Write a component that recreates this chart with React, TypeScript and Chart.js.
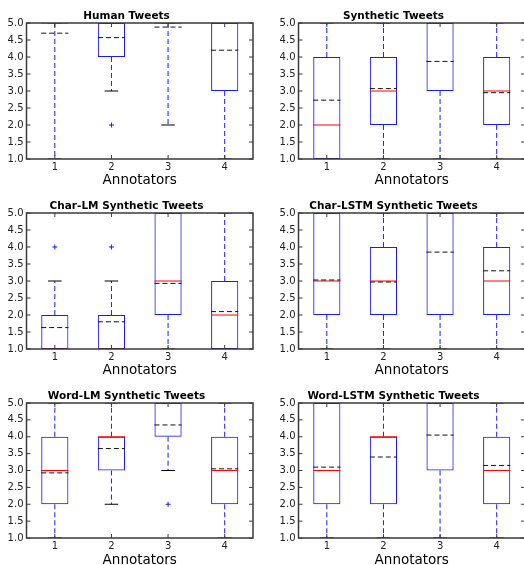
import React, { useEffect, useRef } from 'react';
import { Chart, registerables } from 'chart.js';

Chart.register(...registerables);
Chart.defaults.font.family = "'DejaVu Sans', sans-serif";

// ---------- data ----------
const annotators = ['1', '2', '3', '4'];
const axisLabel = 'Annotators';

// Human Tweets
const humanQ1 = [5, 4, 5, 3];
const humanQ3 = [5, 5, 5, 5];
const humanMedian = [5, 5, 5, 5];
const humanMean = [4.7, 4.57, 4.88, 4.2];
const humanLow = [1, 3, 2, 1];
const humanHigh = [5, 5, 5, 5];
const humanOutliers = [[], [2], [], []];

// Synthetic Tweets
const synQ1 = [1, 2, 3, 2];
const synQ3 = [4, 4, 5, 4];
const synMedian = [2, 3, 5, 3];
const synMean = [2.73, 3.07, 3.87, 2.95];
const synLow = [1, 1, 1, 1];
const synHigh = [5, 5, 5, 5];
const synOutliers = [[], [], [], []];

// Char-LM Synthetic Tweets
const charLmQ1 = [1, 1, 2, 1];
const charLmQ3 = [2, 2, 5, 3];
const charLmMedian = [1, 1, 3, 2];
const charLmMean = [1.63, 1.8, 2.93, 2.1];
const charLmLow = [1, 1, 1, 1];
const charLmHigh = [3, 3, 5, 5];
const charLmOutliers = [[4], [4], [], []];

// Char-LSTM Synthetic Tweets
const charLstmQ1 = [2, 2, 2, 2];
const charLstmQ3 = [5, 4, 5, 4];
const charLstmMedian = [3, 3, 5, 3];
const charLstmMean = [3.03, 2.97, 3.85, 3.3];
const charLstmLow = [1, 1, 1, 1];
const charLstmHigh = [5, 5, 5, 5];
const charLstmOutliers = [[], [], [], []];

// Word-LM Synthetic Tweets
const wordLmQ1 = [2, 3, 4, 2];
const wordLmQ3 = [4, 4, 5, 4];
const wordLmMedian = [3, 4, 5, 3];
const wordLmMean = [2.93, 3.65, 4.35, 3.05];
const wordLmLow = [1, 2, 3, 1];
const wordLmHigh = [5, 5, 5, 5];
const wordLmOutliers = [[], [], [2], []];

// Word-LSTM Synthetic Tweets
const wordLstmQ1 = [2, 2, 3, 2];
const wordLstmQ3 = [5, 4, 5, 4];
const wordLstmMedian = [3, 4, 5, 3];
const wordLstmMean = [3.1, 3.4, 4.05, 3.15];
const wordLstmLow = [1, 1, 1, 1];
const wordLstmHigh = [5, 5, 5, 5];
const wordLstmOutliers = [[], [], [], []];

type PanelData = {
  title: string;
  q1: number[]; q3: number[]; median: number[]; mean: number[];
  low: number[]; high: number[]; outliers: number[][];
};

const panels: PanelData[] = [
  { title: 'Human Tweets', q1: humanQ1, q3: humanQ3, median: humanMedian, mean: humanMean, low: humanLow, high: humanHigh, outliers: humanOutliers },
  { title: 'Synthetic Tweets', q1: synQ1, q3: synQ3, median: synMedian, mean: synMean, low: synLow, high: synHigh, outliers: synOutliers },
  { title: 'Char-LM Synthetic Tweets', q1: charLmQ1, q3: charLmQ3, median: charLmMedian, mean: charLmMean, low: charLmLow, high: charLmHigh, outliers: charLmOutliers },
  { title: 'Char-LSTM Synthetic Tweets', q1: charLstmQ1, q3: charLstmQ3, median: charLstmMedian, mean: charLstmMean, low: charLstmLow, high: charLstmHigh, outliers: charLstmOutliers },
  { title: 'Word-LM Synthetic Tweets', q1: wordLmQ1, q3: wordLmQ3, median: wordLmMedian, mean: wordLmMean, low: wordLmLow, high: wordLmHigh, outliers: wordLmOutliers },
  { title: 'Word-LSTM Synthetic Tweets', q1: wordLstmQ1, q3: wordLstmQ3, median: wordLstmMedian, mean: wordLstmMean, low: wordLstmLow, high: wordLstmHigh, outliers: wordLstmOutliers },
];

// ---------- drawing helpers ----------
function line(ctx: CanvasRenderingContext2D, x1: number, y1: number, x2: number, y2: number) {
  ctx.beginPath();
  ctx.moveTo(x1, y1);
  ctx.lineTo(x2, y2);
  ctx.stroke();
}

function makeBoxPlugin(p: PanelData) {
  return {
    id: 'boxDecor',
    afterDatasetsDraw(chart: any) {
      const { ctx, chartArea: a, scales } = chart;
      const xs = scales.x, ys = scales.y;
      const meta = chart.getDatasetMeta(0);
      ctx.save();
      ctx.beginPath();
      ctx.rect(a.left, a.top, a.right - a.left, a.bottom - a.top);
      ctx.clip();
      ctx.lineWidth = 1;
      p.q1.forEach((q1, i) => {
        const cx = xs.getPixelForValue(i);
        const bw = meta.data[i].width;
        const yq1 = ys.getPixelForValue(q1);
        const yq3 = ys.getPixelForValue(p.q3[i]);
        const yLo = ys.getPixelForValue(p.low[i]);
        const yHi = ys.getPixelForValue(p.high[i]);
        // whiskers
        ctx.strokeStyle = '#1a1aff';
        ctx.setLineDash([5, 3]);
        if (p.low[i] < q1) line(ctx, cx, yq1, cx, yLo);
        if (p.high[i] > p.q3[i]) line(ctx, cx, yq3, cx, yHi);
        // caps
        ctx.setLineDash([]);
        ctx.strokeStyle = '#000000';
        line(ctx, cx - bw / 4, yLo, cx + bw / 4, yLo);
        line(ctx, cx - bw / 4, yHi, cx + bw / 4, yHi);
        // median
        ctx.strokeStyle = '#ff0000';
        const ym = ys.getPixelForValue(p.median[i]);
        line(ctx, cx - bw / 2, ym, cx + bw / 2, ym);
        // fliers
        ctx.strokeStyle = '#1a1aff';
        p.outliers[i].forEach((v) => {
          const yo = ys.getPixelForValue(v);
          line(ctx, cx - 2.5, yo, cx + 2.5, yo);
          line(ctx, cx, yo - 2.5, cx, yo + 2.5);
        });
        // mean
        ctx.strokeStyle = '#111111';
        ctx.setLineDash([5, 3]);
        const ymean = ys.getPixelForValue(p.mean[i]);
        line(ctx, cx - bw / 2, ymean, cx + bw / 2, ymean);
        ctx.setLineDash([]);
      });
      ctx.restore();
    },
    afterDraw(chart: any) {
      const { ctx, chartArea: a, scales } = chart;
      const xs = scales.x, ys = scales.y;
      ctx.save();
      ctx.strokeStyle = '#3a3a3a';
      ctx.lineWidth = 1.5;
      ctx.strokeRect(a.left, a.top, a.right - a.left, a.bottom - a.top);
      ctx.lineWidth = 1;
      const tl = 4;
      ys.ticks.forEach((t: any) => {
        const py = ys.getPixelForValue(t.value);
        line(ctx, a.left, py, a.left + tl, py);
        line(ctx, a.right, py, a.right - tl, py);
      });
      annotators.forEach((_, i) => {
        const px = xs.getPixelForValue(i);
        line(ctx, px, a.bottom, px, a.bottom - tl);
        line(ctx, px, a.top, px, a.top + tl);
      });
      ctx.restore();
    },
  };
}

type PanelProps = {
  data: PanelData; left: number; top: number; width: number; height: number;
  yAxisWidth: number; padRight: number; padTop: number; xAxisHeight: number;
};

function Panel({ data, left, top, width, height, yAxisWidth, padRight, padTop, xAxisHeight }: PanelProps) {
  const ref = useRef<HTMLCanvasElement>(null);
  useEffect(() => {
    const chart = new Chart(ref.current as HTMLCanvasElement, {
      type: 'bar',
      data: {
        labels: annotators,
        datasets: [
          {
            data: data.q1.map((v, i) => [v, data.q3[i]]) as any,
            backgroundColor: 'rgba(255,255,255,0)',
            borderColor: '#1a1aff',
            borderWidth: 1,
            borderSkipped: false,
            barPercentage: 0.48,
            categoryPercentage: 1,
          },
        ],
      },
      options: {
        responsive: false,
        animation: false,
        events: [],
        layout: { padding: { top: padTop, left: 0, right: padRight, bottom: 0 } },
        plugins: {
          legend: { display: false },
          tooltip: { enabled: false },
          title: {
            display: true,
            text: data.title,
            color: '#000000',
            font: { size: 10.5, weight: 'bold', lineHeight: 1.2 },
            padding: { top: 0, bottom: 0.4 },
          },
        },
        scales: {
          x: {
            type: 'category',
            offset: true,
            grid: { display: false, drawTicks: false },
            border: { display: false },
            ticks: { color: '#222222', font: { size: 10 }, padding: 2, maxRotation: 0 },
            title: {
              display: true,
              text: axisLabel,
              color: '#000000',
              font: { size: 13.5 },
              padding: { top: 0, bottom: 1.5 },
            },
            afterFit: (s: any) => { s.height = xAxisHeight; },
          },
          y: {
            type: 'linear',
            min: 1,
            max: 5,
            grid: { display: false, drawTicks: false },
            border: { display: false },
            ticks: {
              stepSize: 0.5,
              color: '#222222',
              font: { size: 10 },
              padding: 3,
              callback: (v: any) => Number(v).toFixed(1),
            },
            afterFit: (s: any) => { s.width = yAxisWidth; },
          },
        },
      } as any,
      plugins: [makeBoxPlugin(data)],
    });
    return () => chart.destroy();
  }, []);
  return (
    <div style={{ position: 'absolute', left, top, width, height }}>
      <canvas ref={ref} width={width} height={height} style={{ display: 'block', width, height }} />
    </div>
  );
}

export default function App() {
  const colLeft = [0, 262];
  const colWidth = [262, 264];
  const colAxis = [26.5, 36.5];
  const colPadRight = [9, 1];
  const rowTop = [0, 190, 380];
  const rowPadTop = [10, 10, 10];
  const rowAxisHeight = [31, 31, 32];
  return (
    <div style={{ position: 'absolute', left: 0, top: 0, width: 524, height: 565, overflow: 'hidden', background: '#ffffff' }}>
      {panels.map((p, idx) => {
        const c = idx % 2;
        const r = Math.floor(idx / 2);
        return (
          <Panel
            key={p.title}
            data={p}
            left={colLeft[c]}
            top={rowTop[r]}
            width={colWidth[c]}
            height={190}
            yAxisWidth={colAxis[c]}
            padRight={colPadRight[c]}
            padTop={rowPadTop[r]}
            xAxisHeight={rowAxisHeight[r]}
          />
        );
      })}
    </div>
  );
}
